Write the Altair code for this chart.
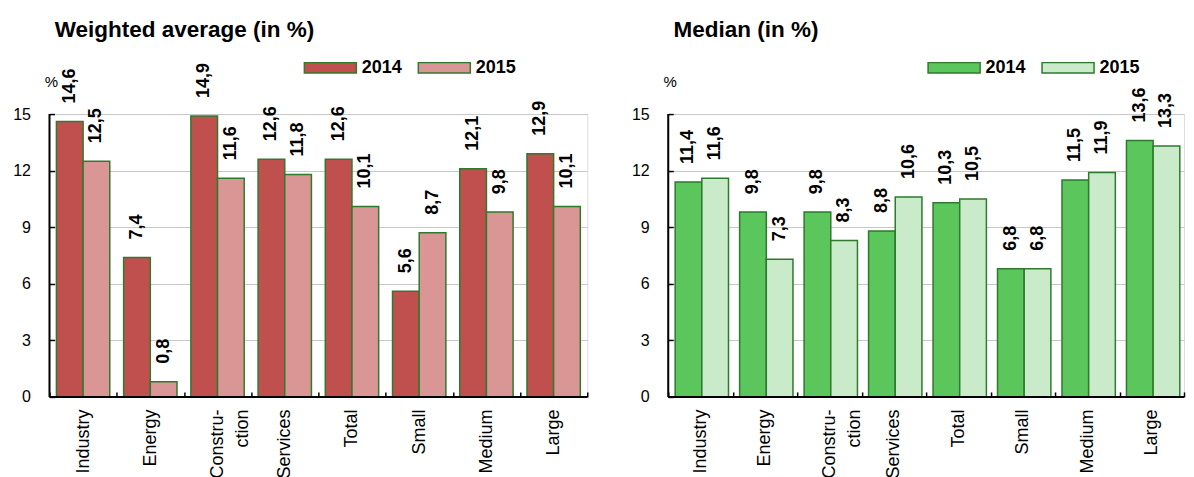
import altair as alt
import pandas as pd

categories = ["Industry", "Energy", "Constru-|ction\u00a0\u00a0\u00a0\u00a0", "Services", "Total", "Small", "Medium", "Large"]
years = ["2014", "2015"]
wavg_2014 = [14.6, 7.4, 14.9, 12.6, 12.6, 5.6, 12.1, 12.9]
wavg_2015 = [12.5, 0.8, 11.6, 11.8, 10.1, 8.7, 9.8, 10.1]
median_2014 = [11.4, 9.8, 9.8, 8.8, 10.3, 6.8, 11.5, 13.6]
median_2015 = [11.6, 7.3, 8.3, 10.6, 10.5, 6.8, 11.9, 13.3]
y_ticks = [0, 3, 6, 9, 12, 15]

wavg_colors = ["#C0504D", "#D99694"]
median_colors = ["#5BC65B", "#C9EBC9"]
STROKE = "#2E7A2E"
FONT = "Liberation Sans"


def make_df(v14, v15):
    rows = []
    for c, a, b in zip(categories, v14, v15):
        rows.append({"cat": c, "year": "2014", "value": a})
        rows.append({"cat": c, "year": "2015", "value": b})
    df = pd.DataFrame(rows)
    df["label"] = df["value"].map(lambda v: f"{v:.1f}".replace(".", ","))
    return df


def panel(df, title, colors, width, legend_x):
    base = alt.Chart(df).encode(
        x=alt.X(
            "cat:N",
            sort=categories,
            scale=alt.Scale(paddingInner=0, paddingOuter=0),
            axis=alt.Axis(
                title=None, labelAngle=-90, labelExpr="split(datum.label, '|')",
                labelFont=FONT, labelFontSize=18, labelColor="black", labelLineHeight=25,
                domain=False, ticks=True, tickBand="extent", tickSize=5,
                tickColor="black", tickWidth=1.5, offset=-5, labelPadding=12,
                grid=False,
            ),
        ),
        xOffset=alt.XOffset("year:N", sort=years, scale=alt.Scale(paddingInner=0, paddingOuter=0.26)),
        y=alt.Y(
            "value:Q",
            scale=alt.Scale(domain=[0, 15], nice=False),
            axis=alt.Axis(
                values=y_ticks, title="%", titleAngle=0, titleX=-3.5, titleY=-33,
                titleAlign="center", titleBaseline="middle", titleFontSize=15,
                titleFontWeight="normal", titleFont=FONT, titleColor="black",
                grid=True, gridColor="#C8C8C8", gridWidth=1,
                domain=False, ticks=True, tickSize=5, tickColor="black", tickWidth=1.5,
                offset=-5, labelPadding=19, labelFontSize=16, labelFont=FONT,
                labelColor="black",
            ),
        ),
    )
    bars = base.mark_bar(stroke=STROKE, strokeWidth=1.5).encode(
        color=alt.Color(
            "year:N",
            scale=alt.Scale(domain=years, range=colors),
            legend=alt.Legend(
                title=None, orient="none", legendX=legend_x, legendY=-58,
                direction="horizontal", symbolType="M-2.5,-0.5H2.5V0.5H-2.5Z",
                symbolSize=433, symbolStrokeColor=STROKE, symbolStrokeWidth=1.5,
                labelFont=FONT, labelFontSize=18, labelFontWeight="bold",
                labelColor="black", labelOffset=20, columnPadding=12, padding=0,
            ),
        )
    )
    text = base.mark_text(
        angle=270, align="left", baseline="middle", dx=18,
        font=FONT, fontSize=18, fontWeight="bold", color="black",
    ).encode(text="label:N")
    one = pd.DataFrame({"v": [0]})
    yline = alt.Chart(one).mark_rule(color="black", strokeWidth=2).encode(x=alt.value(0))
    xline = alt.Chart(one).mark_rule(color="black", strokeWidth=2).encode(y=alt.datum(0))
    return alt.layer(bars, text, yline, xline).properties(
        width=width, height=283,
        title=alt.TitleParams(
            title, anchor="start", frame="group", fontSize=22.5, fontWeight="bold",
            font=FONT, color="black", dx=5.3, offset=-3.4, baseline="alphabetic",
        ),
    )


left = panel(make_df(wavg_2014, wavg_2015), "Weighted average (in %)", wavg_colors, 538, 269.5)
right = panel(make_df(median_2014, median_2015), "Median (in %)", median_colors, 516, 274.5)

chart = alt.hconcat(left, right, spacing=81, bounds="flush").resolve_scale(
    color="independent"
).properties(
    padding={"left": 3.5, "top": 10, "right": 0, "bottom": 0}
).configure_view(stroke=None).configure(background="white")

chart.save("out.html", embed_options={"renderer": "svg", "actions": False})
